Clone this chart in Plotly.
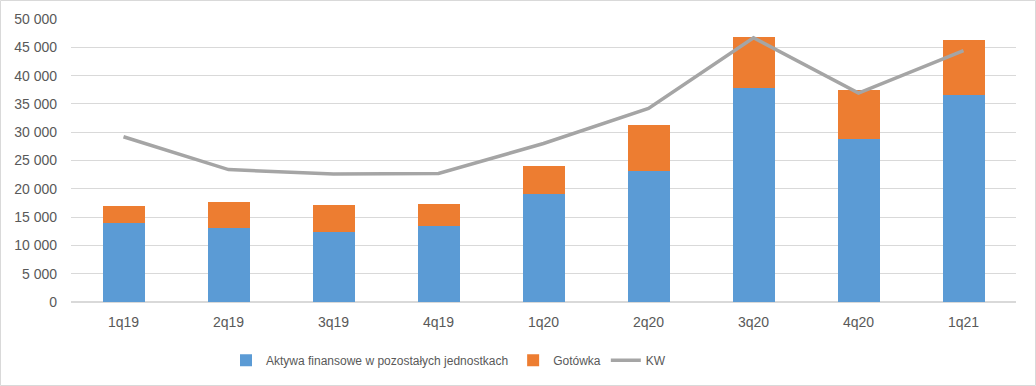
import plotly.graph_objects as go

categories = ["1q19", "2q19", "3q19", "4q19", "1q20", "2q20", "3q20", "4q20", "1q21"]
aktywa = [14000, 13000, 12300, 13500, 19000, 23200, 37800, 28800, 36600]
gotowka = [2900, 4600, 4900, 3900, 5100, 8100, 9000, 8700, 9700]
kw = [29200, 23400, 22600, 22700, 28000, 34200, 46700, 36900, 44400]

W, H = 1036, 386
ML, MR, MT, MB = 71, 20, 19, 84
pw, ph = W - ML - MR, H - MT - MB

fig = go.Figure()
fig.add_trace(go.Bar(x=categories, y=aktywa, name="Aktywa finansowe w pozostałych jednostkach",
                     marker=dict(color="#5B9BD5", line=dict(width=0))))
fig.add_trace(go.Bar(x=categories, y=gotowka, name="Gotówka",
                     marker=dict(color="#ED7D31", line=dict(width=0))))
fig.add_trace(go.Scatter(x=categories, y=kw, name="KW", mode="lines",
                         line=dict(color="#A5A5A5", width=3.5)))

fig.update_layout(
    width=W, height=H,
    margin=dict(l=ML, r=MR, t=MT, b=MB, autoexpand=False),
    barmode="stack", bargap=0.6,
    paper_bgcolor="white", plot_bgcolor="white",
    separators=", ",
    font=dict(family="Liberation Sans, Arial, sans-serif", size=13, color="#595959"),
    legend=dict(orientation="h", x=(226 - ML) / pw, xanchor="left", y=-0.155, yanchor="top",
                font=dict(size=12, color="#595959"), itemwidth=30, traceorder="normal"),
    xaxis=dict(showgrid=False, showline=False, ticks="", tickfont=dict(size=14),
               ticklabelstandoff=10, automargin=False),
    yaxis=dict(range=[0, 50000], dtick=5000, tickformat=",d", showgrid=True,
               gridcolor="#D9D9D9", gridwidth=1, zeroline=True, zerolinecolor="#D9D9D9",
               showline=False, ticks="", tickfont=dict(size=14), ticklabelstandoff=13,
               automargin=False),
    shapes=[dict(type="rect", xref="paper", yref="paper",
                 x0=-(ML - 0.5) / pw, x1=1 + (MR - 0.5) / pw,
                 y0=-(MB - 0.5) / ph, y1=1 + (MT - 0.5) / ph,
                 line=dict(color="#D9D9D9", width=1), layer="below")],
)

fig.write_html("out.html", config={"displayModeBar": False},
               post_script="document.body.style.margin='0';document.body.style.padding='0';")
